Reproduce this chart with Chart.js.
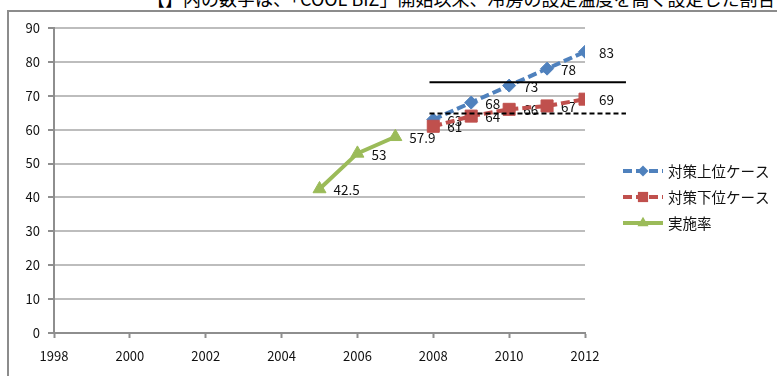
<!DOCTYPE html>
<html>
<head>
<meta charset="utf-8">
<script src="https://cdn.jsdelivr.net/npm/chart.js@4"></script>
<style>
    body { margin: 0; background: #fff; }
    #wrap { position: relative; width: 777px; height: 376px; overflow: hidden; }
    #frame { position: absolute; left: 7px; top: 10px; width: 900px; height: 500px;
             border-left: 2px solid #8c8c8c; border-top: 2px solid #8c8c8c; }
    #note { position: absolute; left: 147px; top: -11px; font: 18px/18px "Noto Sans CJK JP";
            white-space: nowrap; color: #000; }
    canvas { position: absolute; left: 0; top: 0; }
</style>
</head>
<body>
<div id="wrap">
    <div id="note">【】内の数字は、「COOL BIZ」開始以来、冷房の設定温度を高く設定した割合</div>
    <div id="frame"></div>
    <canvas id="chart" width="777" height="376"></canvas>
</div>
<script>
// Series values
const upperYears = [2008, 2009, 2010, 2011, 2012];
const upperValues = [63, 68, 73, 78, 83];
const lowerYears = [2008, 2009, 2010, 2011, 2012];
const lowerValues = [61, 64, 66, 67, 69];
const rateYears = [2005, 2006, 2007];
const rateValues = [42.5, 53, 57.9];

// Reference lines (drawn across the right part of the plot)
const refYears = [2007.9, 2013.08];
const refSolidValue = 74;
const refDashedValue = 64.8;

const seriesNames = ['対策上位ケース', '対策下位ケース', '実施率'];

const FONT = '"Noto Sans CJK JP", "Noto Sans", sans-serif';
const AXIS_GRAY = '#8e8e8e';

function toPoints(xs, ys) {
    return xs.map((x, i) => ({ x: x, y: ys[i] }));
}

// Value labels to the right of each point (drawn under the lines, like the original)
const valueLabels = {
    id: 'valueLabels',
    beforeDatasetsDraw(chart) {
        const ctx = chart.ctx;
        ctx.save();
        ctx.font = '13.5px ' + FONT;
        ctx.fillStyle = '#111';
        ctx.textAlign = 'left';
        ctx.textBaseline = 'middle';
        chart.data.datasets.forEach((ds, i) => {
            if (!ds.showValues) return;
            chart.getDatasetMeta(i).data.forEach((pt, j) => {
                ctx.fillText(String(ds.data[j].y), pt.x + 14, pt.y + 1);
            });
        });
        ctx.restore();
    }
};

// Legend on the right, line + marker + name
const sideLegend = {
    id: 'sideLegend',
    afterDraw(chart) {
        const ctx = chart.ctx;
        const x0 = 623, x1 = 663, top = 171, step = 26;
        let row = 0;
        chart.data.datasets.forEach((ds) => {
            if (!ds.showValues) return;
            const y = top + row * step;
            ctx.save();
            ctx.strokeStyle = ds.borderColor;
            ctx.lineWidth = ds.borderWidth;
            ctx.setLineDash(ds.borderDash || []);
            ctx.beginPath();
            ctx.moveTo(x0, y);
            ctx.lineTo(x1, y);
            ctx.stroke();
            ctx.setLineDash([]);
            ctx.fillStyle = ds.pointBackgroundColor;
            ctx.strokeStyle = ds.pointBackgroundColor;
            Chart.helpers.drawPoint(ctx, {
                pointStyle: ds.pointStyle,
                radius: ds.pointRadius * 0.85,
                rotation: 0,
                borderWidth: 0
            }, (x0 + x1) / 2, y);
            ctx.font = '14.5px ' + FONT;
            ctx.fillStyle = '#111';
            ctx.textAlign = 'left';
            ctx.textBaseline = 'middle';
            ctx.fillText(ds.label, x1 + 5, y);
            ctx.restore();
            row++;
        });
    }
};

new Chart(document.getElementById('chart'), {
    type: 'line',
    data: {
        datasets: [
            {
                label: 'ref-solid',
                data: toPoints(refYears, [refSolidValue, refSolidValue]),
                borderColor: '#000',
                borderWidth: 2,
                pointRadius: 0,
                clip: false,
                order: 0
            },
            {
                label: 'ref-dashed',
                data: toPoints(refYears, [refDashedValue, refDashedValue]),
                borderColor: '#000',
                borderWidth: 2,
                borderDash: [5, 3],
                pointRadius: 0,
                clip: false,
                order: 0
            },
            {
                label: seriesNames[0],
                data: toPoints(upperYears, upperValues),
                borderColor: '#4F81BD',
                borderWidth: 4,
                borderDash: [9, 4],
                pointStyle: 'rectRot',
                pointRadius: 6.5,
                pointBackgroundColor: '#4F81BD',
                pointBorderColor: '#4F81BD',
                pointBorderWidth: 1,
                showValues: true,
                order: 3
            },
            {
                label: seriesNames[1],
                data: toPoints(lowerYears, lowerValues),
                borderColor: '#C0504D',
                borderWidth: 4,
                borderDash: [9, 4],
                pointStyle: 'rect',
                pointRadius: 8.5,
                pointBackgroundColor: '#C0504D',
                pointBorderColor: '#C0504D',
                pointBorderWidth: 1,
                showValues: true,
                order: 2
            },
            {
                label: seriesNames[2],
                data: toPoints(rateYears, rateValues),
                borderColor: '#9BBB59',
                borderWidth: 4,
                pointStyle: 'triangle',
                pointRadius: 7.5,
                pointBackgroundColor: '#9BBB59',
                pointBorderColor: '#9BBB59',
                pointBorderWidth: 1,
                showValues: true,
                order: 1
            }
        ]
    },
    options: {
        responsive: false,
        devicePixelRatio: 1,
        animation: false,
        layout: { padding: { left: 0, top: 28, right: 192, bottom: 0 } },
        plugins: {
            legend: { display: false },
            tooltip: { enabled: false }
        },
        scales: {
            x: {
                type: 'linear',
                min: 1998,
                max: 2012,
                afterFit: (scale) => { scale.height = 43; },
                ticks: {
                    stepSize: 2,
                    padding: 10,
                    color: '#111',
                    font: { family: FONT, size: 13 },
                    callback: (v) => String(v)
                },
                grid: {
                    drawOnChartArea: false,
                    drawTicks: true,
                    tickLength: 5,
                    tickColor: AXIS_GRAY,
                    tickWidth: 2
                },
                border: { color: AXIS_GRAY, width: 2 }
            },
            y: {
                min: 0,
                max: 90,
                afterFit: (scale) => { scale.width = 54; },
                ticks: {
                    stepSize: 10,
                    padding: 8,
                    color: '#111',
                    font: { family: FONT, size: 13 }
                },
                grid: {
                    color: '#bdbdbd',
                    lineWidth: 2,
                    tickLength: 6,
                    tickColor: AXIS_GRAY,
                    tickWidth: 2
                },
                border: { color: AXIS_GRAY, width: 2 }
            }
        }
    },
    plugins: [valueLabels, sideLegend]
});
</script>
</body>
</html>
